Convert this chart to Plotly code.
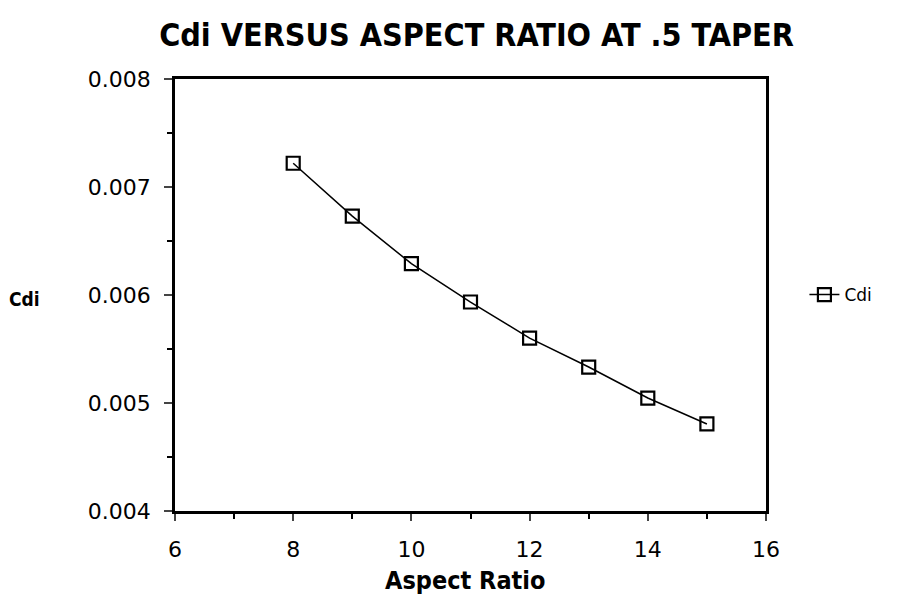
import plotly.graph_objects as go

aspect_ratio = [8, 9, 10, 11, 12, 13, 14, 15]
cdi = [0.00722, 0.00673, 0.00629, 0.005935, 0.00560, 0.005333, 0.005046, 0.004806]

x_ticks = [6, 8, 10, 12, 14, 16]
y_ticks = [0.004, 0.005, 0.006, 0.007, 0.008]

fig = go.Figure()
fig.add_trace(go.Scatter(
    x=aspect_ratio, y=cdi, mode="lines+markers", name="Cdi",
    line=dict(color="black", width=1.5),
    marker=dict(symbol="square-open", size=13, color="black", line=dict(width=2.2)),
))

tickfont = dict(family="DejaVu Sans, sans-serif", size=22, color="black")
boldfont = "DejaVu Sans Condensed, DejaVu Sans, sans-serif"
fig.update_xaxes(
    range=[6, 16], tickvals=x_ticks, ticks="outside", ticklen=7, tickwidth=2,
    showline=True, linecolor="black", linewidth=2.5, mirror=True,
    showgrid=False, zeroline=False, tickfont=tickfont, ticklabelstandoff=10,
    minor=dict(dtick=1, ticks="outside", ticklen=5, tickwidth=1.5, tickcolor="black"),
)
fig.update_yaxes(
    range=[0.004, 0.008], tickvals=y_ticks, tickformat=".3f", ticks="outside", ticklen=8, tickwidth=2,
    showline=True, linecolor="black", linewidth=2.5, mirror=True,
    showgrid=False, zeroline=False, tickfont=tickfont, ticklabelstandoff=9,
    minor=dict(dtick=0.0005, ticks="outside", ticklen=5, tickwidth=1.5, tickcolor="black"),
)
fig.add_annotation(
    text="<b>Cdi</b>", xref="paper", yref="paper", x=-0.254, y=0.491, xanchor="center", yanchor="middle",
    showarrow=False, font=dict(family=boldfont, size=19, color="black"),
)
fig.add_annotation(
    text="<b>Aspect Ratio</b>", xref="paper", yref="paper", x=0.491, y=-0.161, xanchor="center", yanchor="middle",
    showarrow=False, font=dict(family=boldfont, size=25, color="black"),
)
fig.update_layout(
    width=901, height=595,
    margin=dict(l=167, r=143, t=71, b=92),
    paper_bgcolor="white", plot_bgcolor="white",
    title=dict(text="<b>Cdi VERSUS ASPECT RATIO AT .5 TAPER</b>", x=0.52, xanchor="center", y=0.955, yanchor="middle",
               font=dict(family=boldfont, size=32, color="black")),
    showlegend=True,
    legend=dict(x=1.065, y=0.5, xanchor="left", yanchor="middle", bgcolor="rgba(0,0,0,0)", itemwidth=30,
                font=dict(family="DejaVu Sans, sans-serif", size=17, color="black")),
)
fig.write_html("out.html")
